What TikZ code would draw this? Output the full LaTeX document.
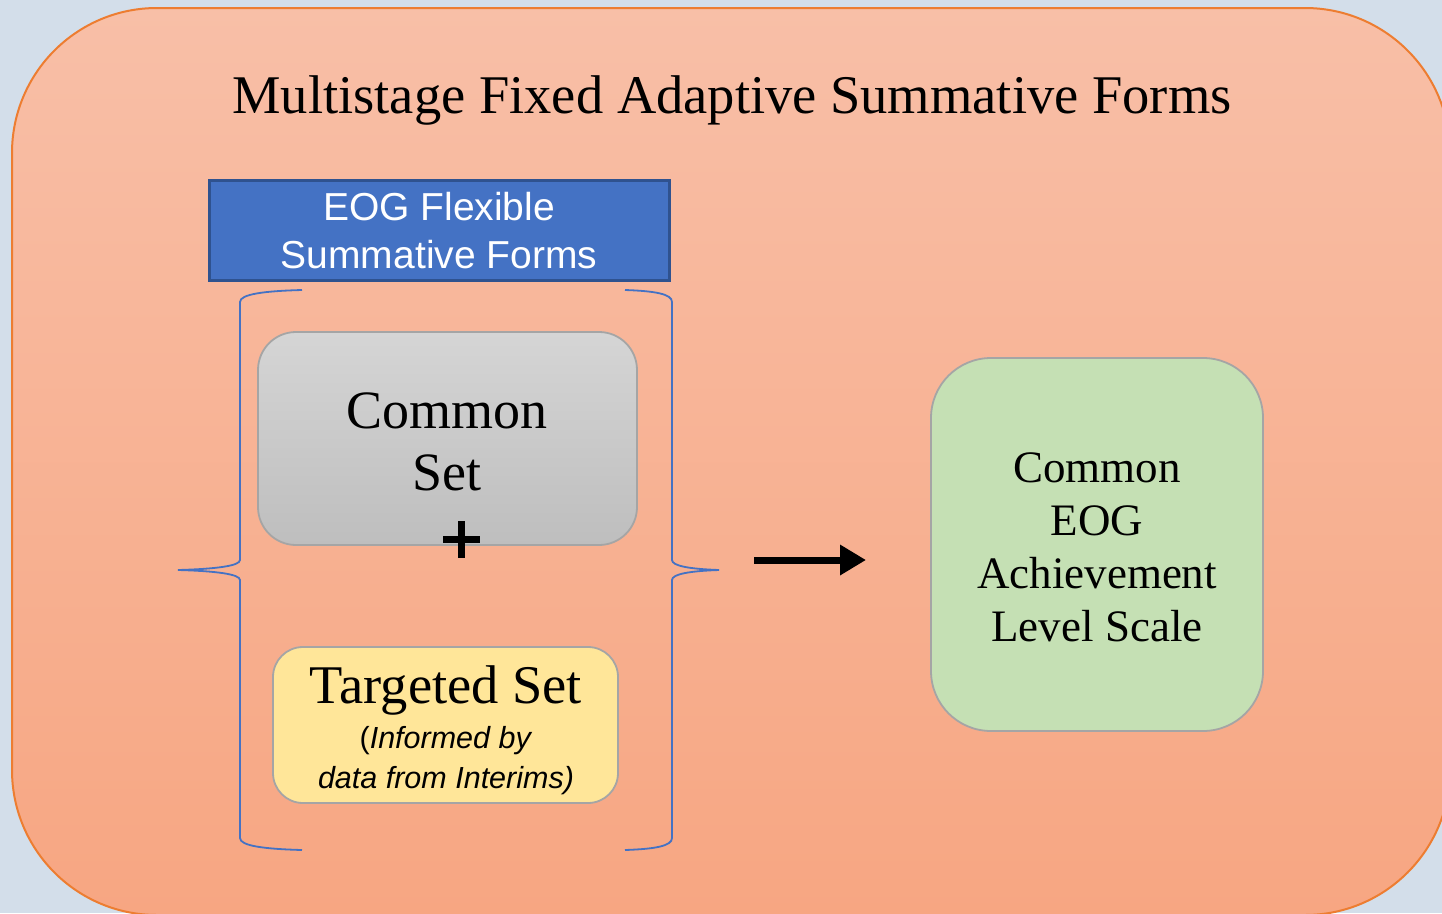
\documentclass[tikz,border=0pt]{standalone}
\usepackage{fontspec}
\setmainfont{Liberation Serif}
\setsansfont{Liberation Sans}
\usetikzlibrary{arrows.meta}
\definecolor{bgc}{HTML}{D3DEEA}
\definecolor{frameTop}{HTML}{F8BFA7}
\definecolor{frameBot}{HTML}{F7A682}
\definecolor{frameEdge}{HTML}{ED7D31}
\definecolor{blueFill}{HTML}{4472C4}
\definecolor{blueEdge}{HTML}{2F528F}
\definecolor{grayTop}{HTML}{D5D5D5}
\definecolor{grayBot}{HTML}{BEBEBE}
\definecolor{boxEdge}{HTML}{A5A5A5}
\definecolor{yellowFill}{HTML}{FFE699}
\definecolor{greenFill}{HTML}{C5E0B4}
\definecolor{braceC}{HTML}{4472C4}
\tikzset{
  roundbox/.style={draw=boxEdge, line width=1.8pt, inner sep=0pt},
  bracepath/.style={draw=braceC, line width=1.8pt},
  serifbig/.style={font=\fontsize{54}{62}\selectfont, anchor=base, align=center, inner sep=0pt},
  serifmid/.style={font=\fontsize{45}{53}\selectfont, anchor=base, align=center, inner sep=0pt},
  sanssmall/.style={font=\sffamily\fontsize{30.5}{40}\selectfont, anchor=base, align=center, inner sep=0pt},
}
\begin{document}
\begin{tikzpicture}[x=1pt,y=-1pt]
\useasboundingbox (0,0) rectangle (1442,913);
\fill[bgc] (0,0) rectangle (1442,913);
\begin{scope}
\clip (0,0) rectangle (1442,913);
\node[draw=frameEdge, line width=2pt, top color=frameTop, bottom color=frameBot,
      rounded corners=145pt, minimum width=1438pt, minimum height=907pt, inner sep=0pt]
      (frame) at (731,461.5) {};
\end{scope}

\node[serifbig, font=\fontsize{54.5}{62}\selectfont] (title) at (732,113) {Multistage Fixed Adaptive Summative Forms};

\node[draw=blueEdge, fill=blueFill, line width=3pt, minimum width=460pt, minimum height=100pt,
      inner sep=0pt, text=white, align=center, font=\sffamily\fontsize{39}{48}\selectfont]
      (eog) at (439,230.5) {EOG Flexible\\Summative Forms};

% braces
\draw[bracepath] (302,290) .. controls (265,291) and (240,294) .. (240,302) -- (240,560)
  .. controls (240,566) and (215,569) .. (178,570)
  .. controls (215,571) and (240,574) .. (240,580) -- (240,838)
  .. controls (240,846) and (265,849) .. (302,850);
\draw[bracepath] (625,290) .. controls (655,291) and (672,294) .. (672,302) -- (672,560)
  .. controls (672,566) and (690,569) .. (719,570)
  .. controls (690,571) and (672,574) .. (672,580) -- (672,838)
  .. controls (672,846) and (655,849) .. (625,850);

% common set
\node[roundbox, top color=grayTop, bottom color=grayBot, rounded corners=38pt,
      minimum width=379pt, minimum height=213pt] (common) at (447.5,438.5) {};
\node[serifbig] (commontxt) at (447,490) {Common\\Set};

% plus
\coordinate (plusc) at (461.5,539.5);
\draw[line width=7pt] ([xshift=-18.5pt]plusc) -- ([xshift=18.5pt]plusc);
\draw[line width=7pt] ([yshift=18.5pt]plusc) -- ([yshift=-18.5pt]plusc);

% targeted set
\node[roundbox, fill=yellowFill, rounded corners=30pt,
      minimum width=345pt, minimum height=156pt] (targeted) at (445.5,725) {};
\node[serifbig, font=\fontsize{54.5}{62}\selectfont] (targtxt) at (446,703) {Targeted Set};
\node[sanssmall] (inftxt) at (446,788) {(\textit{Informed by}\\\textit{data from Interims)}};

% arrow
\coordinate (arrS) at (754,560);
\coordinate (arrE) at (866,560);
\draw[line width=7pt, -{Triangle[length=26pt,width=29pt]}] (arrS) -- (arrE);

% green box
\node[roundbox, fill=greenFill, rounded corners=60pt,
      minimum width=332pt, minimum height=373pt] (scale) at (1097,544.5) {};
\node[serifmid] (scaletxt) at (1097,641) {Common\\EOG\\Achievement\\Level Scale};
\end{tikzpicture}
\end{document}
